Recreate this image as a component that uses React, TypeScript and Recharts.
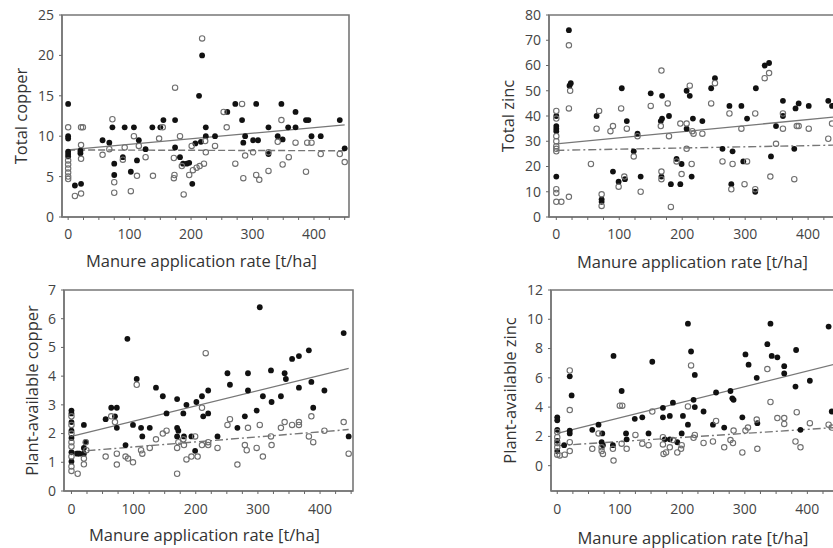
import React from 'react';
import { ScatterChart, Scatter, XAxis, YAxis, ReferenceArea } from 'recharts';

// ---------- data: [manure rate t/ha, value] ----------
const totalCuFilled: number[][] = [
  [0,14],[0,10],[0,9.7],[0,8.1],[0,7.8],[0,7.5],[11,3.9],[21,4.1],[20,7.9],[20,8.2],[56,9.5],[67,9.2],[72,11.1],[75,6.6],[75,5.2],[89,7.4],[92,11.1],[102,5.6],[107,11.1],[112,7.0],[115,9.5],[126,8.4],[137,11.1],[150,11.1],[155,12],[174,12],[174,8.6],[182,7.4],[187,6.6],[193,6.6],[197,6.7],[202,4.1],[207,9.1],[213,15],[218,20],[224,11.1],[224,10],[216,9.3],[239,10],[259,13],[272,14],[283,12],[285,9.2],[288,10],[301,9.5],[306,14],[309,9.5],[326,11.1],[326,7.8],[341,10],[347,14],[349,9.6],[358,11.1],[370,13],[370,11.1],[387,12],[391,12],[396,10],[411,10],[442,12],[450,8.5],
];
const totalCuOpen: number[][] = [
  [0,11.1],[0,7.0],[0,6.5],[0,6.0],[0,5.5],[0,5.0],[0,4.7],[11,2.6],[21,2.9],[21,11.1],[24,11.1],[21,8.9],[21,7.2],[56,7.7],[67,8.4],[72,12.1],[75,4.3],[75,3.0],[89,7.1],[92,8.6],[102,3.2],[107,10],[112,5.1],[115,8.8],[126,7.4],[138,5.1],[148,9.7],[154,11.1],[174,16],[172,7.3],[172,4.8],[173,5.2],[182,10],[185,6.3],[188,2.8],[197,5.2],[201,8.8],[203,5.8],[209,6.1],[214,6.3],[218,22.1],[221,6.6],[223,9.4],[224,8.0],[239,8.8],[253,13],[258,11.1],[272,6.6],[283,14],[285,4.8],[288,7.6],[301,8.0],[306,5.2],[311,4.6],[326,8.0],[326,5.7],[341,9.3],[347,12],[349,6.5],[359,7.4],[370,9.2],[387,5.6],[389,9.2],[396,9.2],[411,7.8],[442,7.8],[450,6.8],
];
const totalCuFitFilled: number[][] = [[0,8.3],[450,11.4]];
const totalCuFitOpen: number[][] = [[0,8.3],[450,8.2]];

const totalZnFilled: number[][] = [
  [0,40],[0,36],[0,35],[0,34],[0,16],[20,74],[21,52],[23,53],[64,40],[72,7],[72,6],[90,18],[99,14],[104,51],[109,15],[112,38],[123,26],[129,33],[134,16],[150,49],[168,48],[166,38],[168,39],[179,40],[167,16],[182,13],[191,23],[197,13],[199,21],[207,35],[207,50],[212,48],[217,39],[215,16],[232,38],[246,51],[252,55],[264,27],[275,44],[280,26],[278,13],[294,44],[297,22],[303,39],[317,51],[316,10],[331,60],[338,61],[341,24],[349,36],[360,46],[360,40],[378,27],[380,43],[385,45],[401,44],[432,46],[438,44],
];
const totalZnOpen: number[][] = [
  [0,42],[0,39],[0,32],[0,30],[0,28],[0,27],[0,26],[0,11],[0,9.5],[0,6],[8,6],[20,8],[20,68],[20,43],[22,50],[55,21],[64,35],[68,42],[72,9],[72,4.4],[86,34],[90,36],[99,12],[103,43],[108,16],[112,35],[123,24],[134,10],[129,32],[150,44],[167,58],[167,18],[167,15],[166,36],[177,45],[179,32],[182,4],[191,22],[197,37],[199,17],[207,27],[207,37],[212,52],[215,21],[216,34],[218,33],[232,33],[246,45],[252,53],[264,22],[275,41],[280,21],[278,11],[294,35],[299,13],[303,22],[316,41],[316,11],[331,55],[338,57],[340,16],[349,29],[360,41],[360,35],[378,15],[382,36],[385,36],[401,35],[432,31],[438,37],
];
const totalZnFitFilled: number[][] = [[0,29],[450,39.8]];
const totalZnFitOpen: number[][] = [[0,26.4],[450,28.5]];

const availCuFilled: number[][] = [
  [0,2.8],[0,2.7],[0,2.4],[0,2.1],[0,1.85],[0,1.35],[0,1.03],[9,1.3],[13,1.3],[20,2.3],[20,1.5],[20,1.3],[23,1.7],[55,2.5],[64,2.9],[73,2.9],[70,2.6],[73,2.2],[87,1.6],[90,5.3],[99,2.3],[105,3.9],[112,2.2],[114,1.9],[126,2.2],[136,3.6],[147,3.3],[153,2.7],[170,3.2],[170,2.2],[172,2.1],[170,1.9],[180,2.7],[181,1.9],[185,3.0],[193,1.9],[199,1.4],[201,3.1],[210,3.3],[212,2.6],[220,3.5],[220,2.7],[235,1.9],[251,4.1],[255,3.7],[267,2.2],[279,2.6],[284,3.5],[284,4.1],[298,2.8],[303,6.4],[308,3.3],[321,4.2],[322,3.1],[337,3.3],[343,4.1],[345,3.9],[355,4.6],[366,4.7],[366,3.6],[382,4.9],[386,3.8],[389,2.9],[407,3.5],[438,5.5],[446,1.9],
];
const availCuOpen: number[][] = [
  [0,2.6],[0,2.3],[0,2.0],[0,1.7],[0,1.55],[0,1.2],[0,0.85],[0,0.7],[10,0.6],[20,0.93],[20,1.13],[23,1.7],[24,1.42],[55,1.2],[64,2.6],[70,2.4],[73,1.3],[73,0.92],[87,1.2],[91,1.13],[99,1.0],[105,3.7],[112,1.42],[114,1.3],[126,1.5],[136,1.8],[147,2.0],[153,2.1],[170,0.6],[170,1.5],[172,1.7],[180,1.8],[181,1.6],[185,1.1],[193,1.2],[199,1.9],[203,1.2],[210,2.9],[210,1.6],[216,4.8],[220,1.7],[220,1.6],[235,1.5],[251,2.3],[255,2.5],[267,0.92],[279,1.6],[282,1.42],[284,2.2],[298,1.5],[303,2.3],[308,1.2],[321,1.9],[322,1.6],[337,2.2],[343,2.4],[355,2.3],[366,2.4],[366,2.3],[382,1.9],[386,2.6],[389,1.7],[407,2.1],[438,2.4],[446,1.3],
];
const availCuFitFilled: number[][] = [[0,1.9],[446,4.27]];
const availCuFitOpen: number[][] = [[0,1.36],[446,2.14]];

const availZnFilled: number[][] = [
  [0,3.3],[0,3.1],[0,2.45],[0,1.7],[0,1.0],[11,1.4],[20,6.1],[23,4.8],[20,2.4],[20,2.2],[56,2.45],[66,2.8],[72,2.2],[71,1.6],[73,1.4],[89,1.4],[90,7.5],[103,5.1],[110,2.2],[111,1.8],[124,3.2],[136,3.3],[146,2.2],[152,7.1],[169,3.95],[169,3.3],[172,1.8],[180,3.4],[180,1.8],[185,4.3],[192,1.6],[199,2.2],[201,3.4],[209,9.7],[209,2.8],[214,7.8],[218,4.5],[220,6.2],[220,4.0],[234,3.7],[249,2.8],[254,5.0],[267,2.6],[277,5.1],[280,4.6],[282,4.5],[296,3.3],[301,7.6],[306,6.9],[319,6.0],[320,2.9],[336,8.3],[341,9.7],[343,7.5],[352,7.4],[363,6.8],[363,6.3],[381,5.4],[382,7.9],[389,2.45],[404,5.8],[434,9.5],[439,3.7],
];
const availZnOpen: number[][] = [
  [0,2.3],[0,1.95],[0,1.55],[0,1.25],[0,0.75],[4,0.7],[12,0.75],[20,6.5],[20,3.8],[20,1.6],[20,1.0],[56,1.15],[66,2.2],[71,1.0],[73,0.8],[71,1.25],[89,1.15],[90,0.35],[100,4.1],[104,4.1],[103,1.5],[111,1.15],[125,2.1],[136,1.5],[146,1.4],[152,3.7],[169,1.95],[169,1.45],[170,0.8],[174,0.9],[180,1.25],[185,1.75],[192,0.9],[198,1.15],[199,1.4],[209,4.05],[214,6.85],[220,2.1],[218,1.9],[234,1.55],[249,1.65],[254,3.05],[267,1.25],[277,1.75],[281,1.55],[282,2.4],[296,0.9],[301,2.4],[305,2.6],[319,3.15],[320,1.15],[336,6.6],[341,4.35],[352,3.25],[363,3.25],[363,2.85],[381,1.65],[383,3.65],[389,1.25],[404,2.9],[434,2.8],[439,2.6],
];
const availZnFitFilled: number[][] = [[0,2.2],[450,7.0]];
const availZnFitOpen: number[][] = [[0,1.37],[450,2.62]];

const xTicks = [0,25,50,75,100,125,150,175,200,225,250,275,300,325,350,375,400,425,450];
const xTitle = 'Manure application rate [t/ha]';

// ---------- rendering ----------
const FONT = "'Open Sans', 'Noto Sans', sans-serif";
const toPts = (a: number[][]) => a.map(([x, y]) => ({ x, y }));

const FilledDot = (p: any) => <circle cx={p.cx} cy={p.cy} r={2.9} fill="#111" />;
const OpenDot = (p: any) => (
  <circle cx={p.cx} cy={p.cy} r={2.7} fill="none" stroke="#6f6f6f" strokeWidth={1.1} />
);
const NoDot = () => <g />;

const XTick = (p: any) => {
  const v = p.payload.value;
  if (v % 100 !== 0) return <g />;
  return (
    <text x={p.x} y={p.y} dy="0.71em" textAnchor="middle" fontSize={14} fill="#444" fontFamily={FONT}>
      {v}
    </text>
  );
};
const YTick = (p: any) => (
  <text x={p.x} y={p.y} dy="0.35em" textAnchor="end" fontSize={14} fill="#444" fontFamily={FONT}>
    {p.payload.value}
  </text>
);

type PanelProps = {
  left: number; top: number; width: number; height: number;
  margin: { top: number; right: number; bottom: number; left: number };
  xDomain: [number, number]; yDomain: [number, number]; yTicks: number[];
  yTitle: string; yTitleX: number; xTitleOff: number; xTickMargin: number;
  filled: number[][]; open: number[][]; fitFilled: number[][]; fitOpen: number[][];
  dash: string;
};

const Panel = (pp: PanelProps) => {
  const axisColor = '#777';
  return (
    <div style={{ position: 'absolute', left: pp.left, top: pp.top }}>
      <ScatterChart width={pp.width} height={pp.height} margin={pp.margin}>
        <XAxis
          type="number" dataKey="x" domain={pp.xDomain} ticks={xTicks} allowDataOverflow
          height={57} tickSize={3} tickMargin={pp.xTickMargin} tick={<XTick />}
          axisLine={{ stroke: axisColor, strokeWidth: 1.5 }} tickLine={{ stroke: '#666' }}
          interval={0}
          label={{
            content: (lp: any) => {
              const vb = lp.viewBox;
              return (
                <text x={vb.x + vb.width / 2 - 4} y={vb.y + vb.height - pp.xTitleOff}
                  textAnchor="middle" fontSize={16.5} fill="#333" fontFamily={FONT}>{xTitle}</text>
              );
            },
          }}
        />
        <YAxis
          type="number" dataKey="y" domain={pp.yDomain} ticks={pp.yTicks} allowDataOverflow
          width={62} tickSize={3} tickMargin={5} tick={<YTick />} interval={0}
          axisLine={{ stroke: axisColor, strokeWidth: 1.5 }} tickLine={{ stroke: '#666' }}
          label={{
            content: (lp: any) => {
              const vb = lp.viewBox;
              const cx = vb.x + pp.yTitleX;
              const cy = vb.y + vb.height / 2;
              return (
                <text x={cx} y={cy} dy="0.35em" textAnchor="middle" fontSize={16.5} fill="#333"
                  fontFamily={FONT} transform={`rotate(-90, ${cx}, ${cy})`}>{pp.yTitle}</text>
              );
            },
          }}
        />
        <ReferenceArea
          x1={pp.xDomain[0]} x2={pp.xDomain[1]} y1={pp.yDomain[0]} y2={pp.yDomain[1]}
          fill="none" fillOpacity={0} stroke={axisColor} strokeWidth={1.6} ifOverflow="visible"
        />
        <Scatter data={toPts(pp.fitOpen)} shape={NoDot} line={{ stroke: '#777', strokeWidth: 1.4, strokeDasharray: pp.dash }} isAnimationActive={false} />
        <Scatter data={toPts(pp.fitFilled)} shape={NoDot} line={{ stroke: '#777', strokeWidth: 1.3 }} isAnimationActive={false} />
        <Scatter data={toPts(pp.filled)} shape={FilledDot} isAnimationActive={false} />
        <Scatter data={toPts(pp.open)} shape={OpenDot} isAnimationActive={false} />
      </ScatterChart>
    </div>
  );
};

export default function App() {
  return (
    <div style={{ position: 'fixed', left: 0, top: 0, width: 833, height: 548, overflow: 'hidden', background: '#fff' }}>
      <Panel
        left={0} top={0} width={360} height={274} margin={{ top: 15, right: 11, bottom: 0, left: 0 }}
        xDomain={[-10, 457]} yDomain={[0, 25]} yTicks={[0, 5, 10, 15, 20, 25]}
        yTitle="Total copper" yTitleX={21} xTitleOff={7} xTickMargin={9}
        filled={totalCuFilled} open={totalCuOpen} fitFilled={totalCuFitFilled} fitOpen={totalCuFitOpen}
        dash="7 3"
      />
      <Panel
        left={487} top={0} width={367} height={274} margin={{ top: 15, right: 10, bottom: 0, left: 0 }}
        xDomain={[-11.6, 457]} yDomain={[0, 80]} yTicks={[0, 10, 20, 30, 40, 50, 60, 70, 80]}
        yTitle="Total zinc" yTitleX={21} xTitleOff={6} xTickMargin={9}
        filled={totalZnFilled} open={totalZnOpen} fitFilled={totalZnFitFilled} fitOpen={totalZnFitOpen}
        dash="8 3 2 3"
      />
      <Panel
        left={0} top={274} width={363} height={274} margin={{ top: 16, right: 10, bottom: 0, left: 2 }}
        xDomain={[-12, 453]} yDomain={[0, 7]} yTicks={[0, 1, 2, 3, 4, 5, 6, 7]}
        yTitle="Plant-available copper" yTitleX={30} xTitleOff={7} xTickMargin={10}
        filled={availCuFilled} open={availCuOpen} fitFilled={availCuFitFilled} fitOpen={availCuFitOpen}
        dash="8 3 2 3"
      />
      <Panel
        left={489} top={274} width={364} height={274} margin={{ top: 16, right: 10, bottom: 0, left: 0 }}
        xDomain={[-10, 457]} yDomain={[-1.73, 12]} yTicks={[0, 2, 4, 6, 8, 10, 12]}
        yTitle="Plant-available zinc" yTitleX={21.5} xTitleOff={4} xTickMargin={10}
        filled={availZnFilled} open={availZnOpen} fitFilled={availZnFitFilled} fitOpen={availZnFitOpen}
        dash="8 3 2 3"
      />
    </div>
  );
}
